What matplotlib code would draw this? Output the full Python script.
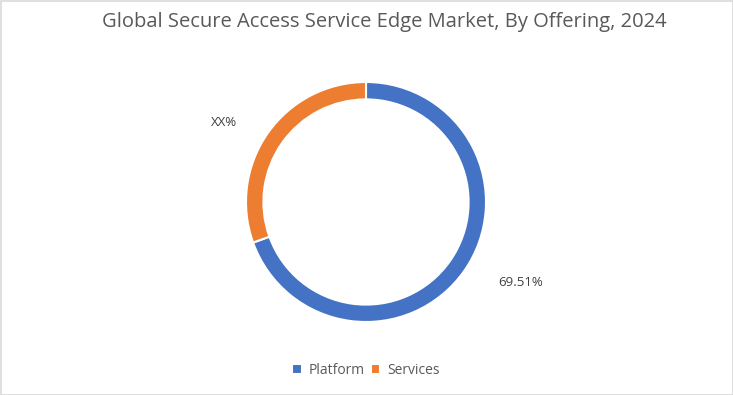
import matplotlib.pyplot as plt
from matplotlib.patches import Rectangle

# data
offerings = ['Platform', 'Services']
shares = [69.51, 30.49]
labels = ['69.51%', 'XX%']
colors = ['#4472C4', '#ED7D31']

plt.rcParams['font.family'] = ['Open Sans', 'DejaVu Sans']
txt = '#595959'

fig = plt.figure(figsize=(7.33, 3.95), dpi=100)
ax = fig.add_axes([0, 0, 1, 1])
ax.set_xlim(0, 733)
ax.set_ylim(395, 0)
ax.axis('off')

# donut in its own axes, centred at (366, 202) px, radius 120
r = 120
cx, cy = 366, 202
pax = fig.add_axes([(cx - r) / 733, 1 - (cy + r) / 395, 2 * r / 733, 2 * r / 395])
wedges, _ = pax.pie(shares, colors=colors, startangle=90, counterclock=False,
                    radius=1.0, wedgeprops=dict(width=0.145, edgecolor='white', linewidth=1.5))
pax.set_xlim(-1, 1)
pax.set_ylim(-1, 1)
pax.set_aspect('auto')

ax.text(521, 283, labels[0], ha='center', va='center', fontsize=9.5, color='#404040')
ax.text(224, 122, labels[1], ha='center', va='center', fontsize=9.5, color='#404040')

ax.text(384, 22, 'Global Secure Access Service Edge Market, By Offering, 2024',
        ha='center', va='center', fontsize=14.5, color=txt)

leg = ax.legend(wedges, offerings, loc='center', bbox_to_anchor=(366 / 733, 1 - 370 / 395),
                bbox_transform=fig.transFigure, ncol=2, frameon=False, fontsize=10,
                handlelength=0.7, handleheight=0.7, handletextpad=0.5, columnspacing=0.4)
for t in leg.get_texts():
    t.set_color(txt)

ax.add_patch(Rectangle((0.5, 0.5), 732, 394, fill=False, edgecolor='#D9D9D9', linewidth=1.2))

fig.savefig('out.png', dpi=100)
